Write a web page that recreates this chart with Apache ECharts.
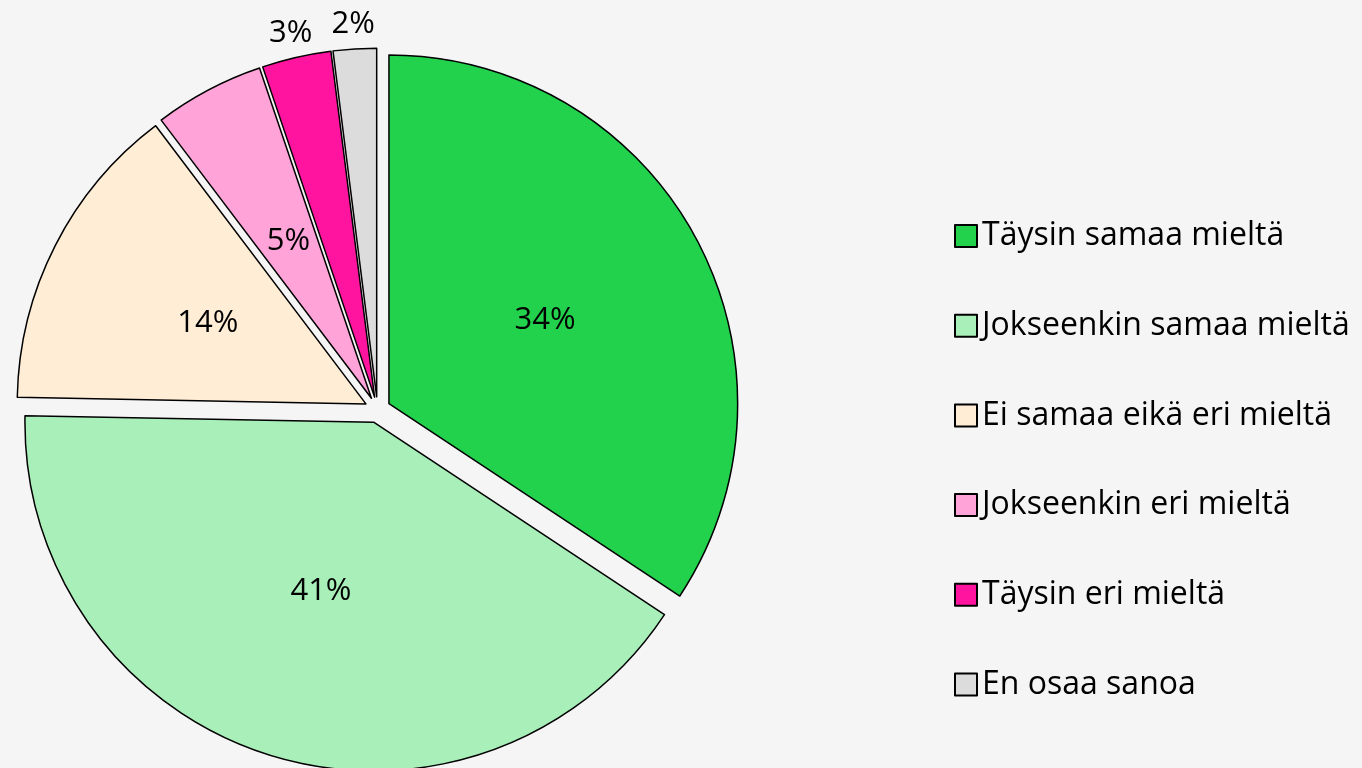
<!DOCTYPE html>
<html><head><meta charset="utf-8">
<script src="https://cdn.jsdelivr.net/npm/echarts@6/dist/echarts.min.js"></script>
<style>html,body{margin:0;padding:0;background:#f5f5f5}#c{width:1362px;height:768px}</style>
</head><body><div id="c"></div>
<script>
const categories = ['Täysin samaa mieltä','Jokseenkin samaa mieltä','Ei samaa eikä eri mieltä','Jokseenkin eri mieltä','Täysin eri mieltä','En osaa sanoa'];
const values = [34.3, 41.0, 14.4, 5.1, 3.2, 2.0];
const colors = ['#22d24c','#a8efb9','#ffedd5','#ffa3d8','#ff149f','#dcdcdc'];
const outsideLabels = [false,false,false,false,true,true];
const FONT = 'Open Sans';

const chart = echarts.init(document.getElementById('c'));
chart.setOption({
  backgroundColor:'#f5f5f5',
  animation:false,
  legend:{
    orient:'vertical', left:949, top:214,
    itemWidth:22, itemHeight:22, itemGap:55.7,
    icon:'rect',
    textStyle:{fontFamily:FONT,fontSize:32,color:'#000',lineHeight:34,padding:[0,0,0,0]},
    itemStyle:{borderColor:'#000',borderWidth:2},
    data:categories,
    selectedMode:false
  },
  series:[{
    type:'pie',
    center:[377.5,409.8],
    radius:[0,348.7],
    startAngle:90,
    clockwise:true,
    selectedMode:'multiple',
    selectedOffset:13,
    avoidLabelOverlap:false,
    itemStyle:{borderColor:'#000',borderWidth:1.5},
    emphasis:{disabled:true},
    label:{show:true,position:'inside',fontFamily:FONT,fontSize:31,color:'#000',
      formatter:p=>Math.round(p.value)+'%'},
    labelLine:{show:false,length:25,length2:0},
    labelLayout:function(p){ if(outsideLabels[p.dataIndex]) return {align:'center',verticalAlign:'middle'}; },
    data:categories.map((n,i)=>({
      name:n,value:values[i],selected:true,
      itemStyle:{color:colors[i]},
      label: outsideLabels[i] ? {position:'outside',distanceToLabelLine:0} : {},
      labelLine: {show:false}
    }))
  }]
});
</script></body></html>
